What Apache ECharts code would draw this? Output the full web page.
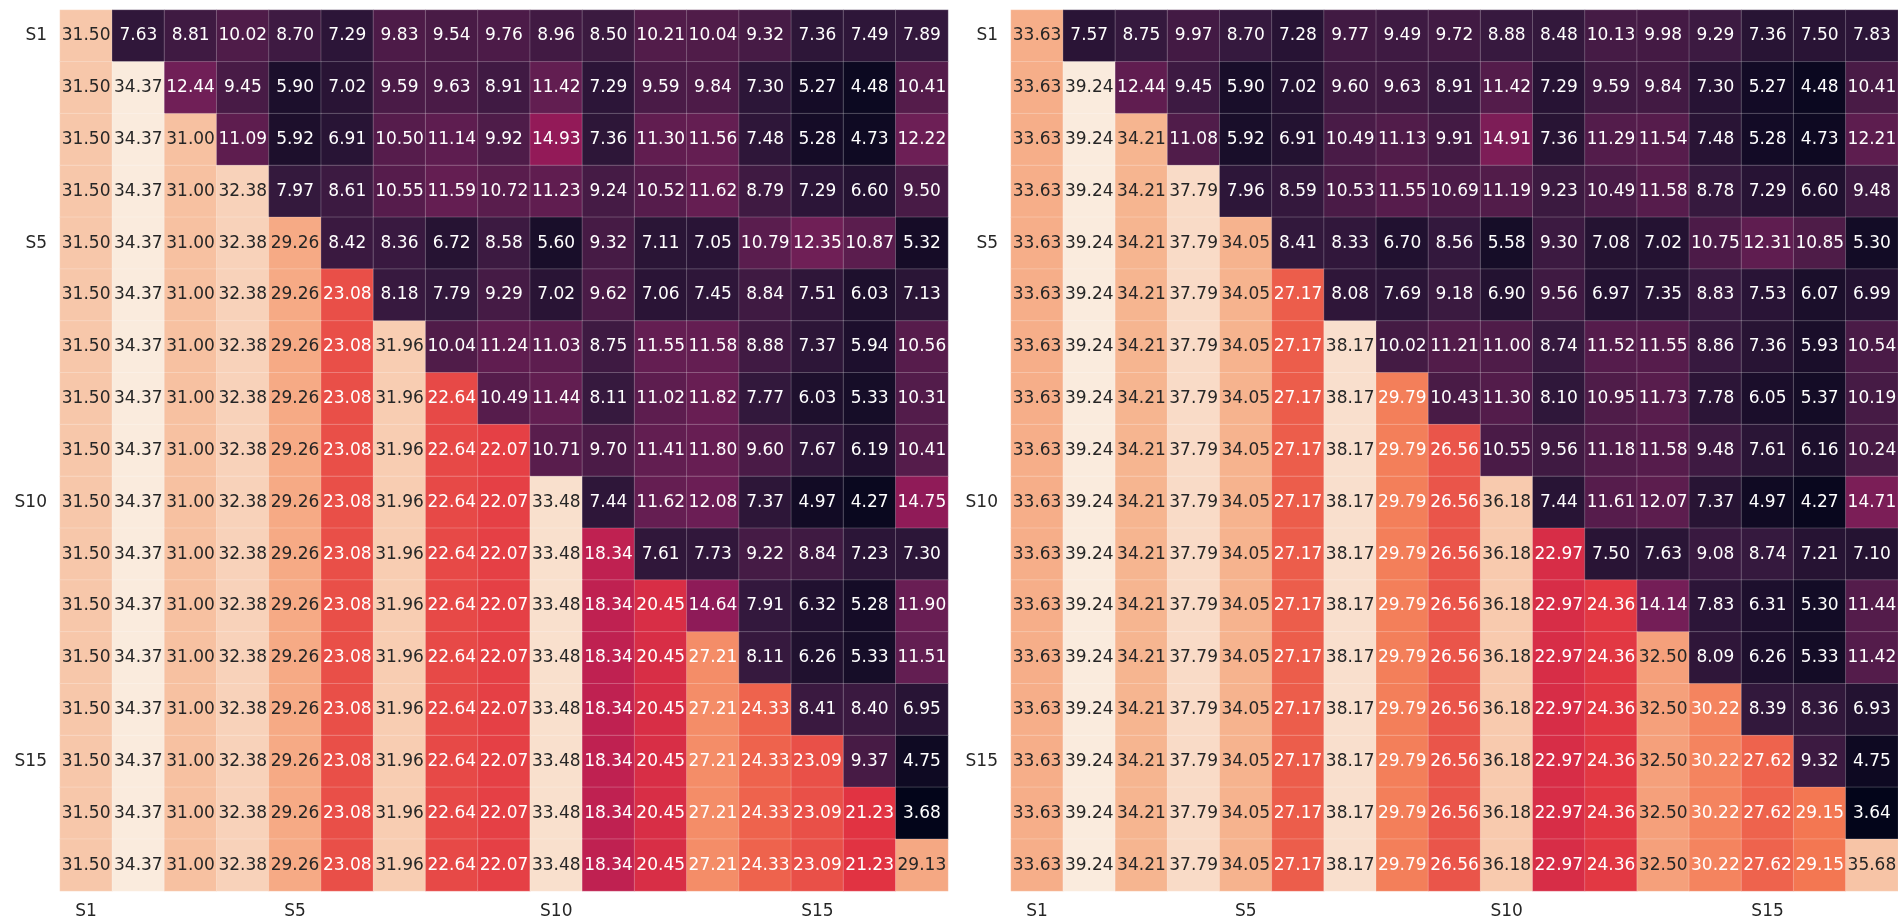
<!DOCTYPE html>
<html>
<head>
<meta charset="utf-8">
<script src="https://cdn.jsdelivr.net/npm/echarts@6/dist/echarts.min.js"></script>
<style>
  html, body { margin: 0; padding: 0; background: #fff; }
  #chart { width: 1898px; height: 920px; }
</style>
</head>
<body>
<div id="chart"></div>
<script>
// axis categories (rows top->bottom, columns left->right)
const names = ['S1', 'S2', 'S3', 'S4', 'S5', 'S6', 'S7', 'S8', 'S9', 'S10',
  'S11', 'S12', 'S13', 'S14', 'S15', 'S16', 'S17'];
const tickLabels = ['S1', 'S5', 'S10', 'S15']; // only these are printed

// left matrix: diagonal (repeated down each column) + cells right of the diagonal, row by row
const leftDiag = [31.50, 34.37, 31.00, 32.38, 29.26, 23.08, 31.96, 22.64, 22.07,
  33.48, 18.34, 20.45, 27.21, 24.33, 23.09, 21.23, 29.13];
const leftUpper = [
  [7.63, 8.81, 10.02, 8.70, 7.29, 9.83, 9.54, 9.76, 8.96, 8.50, 10.21, 10.04, 9.32, 7.36, 7.49, 7.89],
  [12.44, 9.45, 5.90, 7.02, 9.59, 9.63, 8.91, 11.42, 7.29, 9.59, 9.84, 7.30, 5.27, 4.48, 10.41],
  [11.09, 5.92, 6.91, 10.50, 11.14, 9.92, 14.93, 7.36, 11.30, 11.56, 7.48, 5.28, 4.73, 12.22],
  [7.97, 8.61, 10.55, 11.59, 10.72, 11.23, 9.24, 10.52, 11.62, 8.79, 7.29, 6.60, 9.50],
  [8.42, 8.36, 6.72, 8.58, 5.60, 9.32, 7.11, 7.05, 10.79, 12.35, 10.87, 5.32],
  [8.18, 7.79, 9.29, 7.02, 9.62, 7.06, 7.45, 8.84, 7.51, 6.03, 7.13],
  [10.04, 11.24, 11.03, 8.75, 11.55, 11.58, 8.88, 7.37, 5.94, 10.56],
  [10.49, 11.44, 8.11, 11.02, 11.82, 7.77, 6.03, 5.33, 10.31],
  [10.71, 9.70, 11.41, 11.80, 9.60, 7.67, 6.19, 10.41],
  [7.44, 11.62, 12.08, 7.37, 4.97, 4.27, 14.75],
  [7.61, 7.73, 9.22, 8.84, 7.23, 7.30],
  [14.64, 7.91, 6.32, 5.28, 11.90],
  [8.11, 6.26, 5.33, 11.51],
  [8.41, 8.40, 6.95],
  [9.37, 4.75],
  [3.68],
  []
];

// right matrix
const rightDiag = [33.63, 39.24, 34.21, 37.79, 34.05, 27.17, 38.17, 29.79, 26.56,
  36.18, 22.97, 24.36, 32.50, 30.22, 27.62, 29.15, 35.68];
const rightUpper = [
  [7.57, 8.75, 9.97, 8.70, 7.28, 9.77, 9.49, 9.72, 8.88, 8.48, 10.13, 9.98, 9.29, 7.36, 7.50, 7.83],
  [12.44, 9.45, 5.90, 7.02, 9.60, 9.63, 8.91, 11.42, 7.29, 9.59, 9.84, 7.30, 5.27, 4.48, 10.41],
  [11.08, 5.92, 6.91, 10.49, 11.13, 9.91, 14.91, 7.36, 11.29, 11.54, 7.48, 5.28, 4.73, 12.21],
  [7.96, 8.59, 10.53, 11.55, 10.69, 11.19, 9.23, 10.49, 11.58, 8.78, 7.29, 6.60, 9.48],
  [8.41, 8.33, 6.70, 8.56, 5.58, 9.30, 7.08, 7.02, 10.75, 12.31, 10.85, 5.30],
  [8.08, 7.69, 9.18, 6.90, 9.56, 6.97, 7.35, 8.83, 7.53, 6.07, 6.99],
  [10.02, 11.21, 11.00, 8.74, 11.52, 11.55, 8.86, 7.36, 5.93, 10.54],
  [10.43, 11.30, 8.10, 10.95, 11.73, 7.78, 6.05, 5.37, 10.19],
  [10.55, 9.56, 11.18, 11.58, 9.48, 7.61, 6.16, 10.24],
  [7.44, 11.61, 12.07, 7.37, 4.97, 4.27, 14.71],
  [7.50, 7.63, 9.08, 8.74, 7.21, 7.10],
  [14.14, 7.83, 6.31, 5.30, 11.44],
  [8.09, 6.26, 5.33, 11.42],
  [8.39, 8.36, 6.93],
  [9.32, 4.75],
  [3.64],
  []
];

// seaborn "rocket" sampled at 0, 1/7, ... 1
const rocket = ['#03051a', '#35193e', '#701f57', '#ad1759', '#e13342', '#f37651', '#f6b48f', '#faebdd'];
const FONT = 'DejaVu Sans';

function hexRgb(h) {
  return [parseInt(h.slice(1, 3), 16), parseInt(h.slice(3, 5), 16), parseInt(h.slice(5, 7), 16)];
}

// pick dark or white text like seaborn does (relative luminance > .408 -> dark)
function textColor(v, min, max) {
  let t = (v - min) / (max - min);
  t = Math.max(0, Math.min(1, t)) * (rocket.length - 1);
  let i = Math.min(Math.floor(t), rocket.length - 2);
  let f = t - i;
  let a = hexRgb(rocket[i]), b = hexRgb(rocket[i + 1]);
  let lin = [0, 1, 2].map(function (k) {
    let c = (a[k] + (b[k] - a[k]) * f) / 255;
    return c <= 0.03928 ? c / 12.92 : Math.pow((c + 0.055) / 1.055, 2.4);
  });
  let lum = 0.2126 * lin[0] + 0.7152 * lin[1] + 0.0722 * lin[2];
  return lum > 0.408 ? '#262626' : '#ffffff';
}

function buildCells(diag, upper) {
  let rows = [];
  for (let r = 0; r < names.length; r++) {
    for (let c = 0; c < names.length; c++) {
      let v = c <= r ? diag[c] : upper[r][c - r - 1];
      rows.push([c, r, v]);
    }
  }
  let vals = rows.map(function (d) { return d[2]; });
  let min = Math.min.apply(null, vals), max = Math.max.apply(null, vals);
  let data = rows.map(function (d) {
    return { value: d, label: { color: textColor(d[2], min, max) } };
  });
  return { data: data, min: min, max: max };
}

const left = buildCells(leftDiag, leftUpper);
const right = buildCells(rightDiag, rightUpper);

function xAxis(idx) {
  return {
    type: 'category', data: names, gridIndex: idx, position: 'bottom',
    axisLine: { show: false }, axisTick: { show: false }, splitLine: { show: false },
    axisLabel: {
      interval: 0, margin: 12, fontSize: 17, fontFamily: FONT, color: '#262626',
      formatter: function (v) { return tickLabels.indexOf(v) >= 0 ? v : ''; }
    }
  };
}

function yAxis(idx) {
  return {
    type: 'category', data: names, gridIndex: idx, inverse: true,
    axisLine: { show: false }, axisTick: { show: false }, splitLine: { show: false },
    axisLabel: {
      interval: 0, margin: 13, fontSize: 17, fontFamily: FONT, color: '#262626',
      formatter: function (v) { return tickLabels.indexOf(v) >= 0 ? v : ''; }
    }
  };
}

function heat(idx, part) {
  return {
    type: 'heatmap', xAxisIndex: idx, yAxisIndex: idx, data: part.data,
    label: {
      show: true, fontSize: 17, fontFamily: FONT,
      formatter: function (p) { return p.value[2].toFixed(2); }
    },
    itemStyle: { borderColor: 'rgba(255,255,255,0.22)', borderWidth: 1 },
    emphasis: { disabled: true },
    animation: false
  };
}

let myChart = echarts.init(document.getElementById('chart'));
myChart.setOption({
  backgroundColor: '#ffffff',
  animation: false,
  grid: [
    { left: 60, top: 10, width: 888, height: 882 },
    { left: 1011, top: 10, width: 888, height: 882 }
  ],
  xAxis: [xAxis(0), xAxis(1)],
  yAxis: [yAxis(0), yAxis(1)],
  visualMap: [
    { show: false, seriesIndex: 0, min: left.min, max: left.max, inRange: { color: rocket } },
    { show: false, seriesIndex: 1, min: right.min, max: right.max, inRange: { color: rocket } }
  ],
  series: [heat(0, left), heat(1, right)]
});
</script>
</body>
</html>
